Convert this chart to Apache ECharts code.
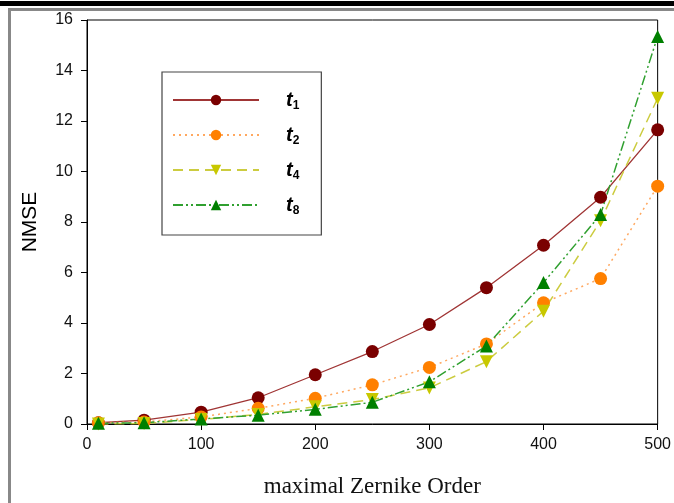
<!DOCTYPE html>
<html>
<head>
<meta charset="utf-8">
<script src="https://cdn.jsdelivr.net/npm/echarts@6/dist/echarts.min.js"></script>
<style>
  html, body { margin: 0; padding: 0; background: #fff; }
  #chart { width: 674px; height: 503px; }
</style>
</head>
<body>
<div id="chart"></div>
<script>
// maximal Zernike order (x)
var orders = [10, 50, 100, 150, 200, 250, 300, 350, 400, 450, 500];
// NMSE per series
var t1 = [0.05, 0.15, 0.47, 1.04, 1.95, 2.87, 3.94, 5.4, 7.08, 8.98, 11.65];
var t2 = [0.05, 0.08, 0.28, 0.62, 1.02, 1.55, 2.24, 3.17, 4.8, 5.76, 9.42];
var t4 = [0.0, 0.02, 0.18, 0.38, 0.68, 0.97, 1.43, 2.47, 4.47, 8.05, 12.9];
var t8 = [0.03, 0.05, 0.2, 0.35, 0.58, 0.86, 1.67, 3.09, 5.6, 8.3, 15.35];

var names = ['t1', 't2', 't4', 't8'];
var yTicks = [0, 16, 2]; // min, max, step
var xTicks = [0, 500, 100];

function pairs(arr) {
  return orders.map(function (x, i) { return [x, arr[i]]; });
}

var chart = echarts.init(document.getElementById('chart'));

chart.setOption({
  animation: false,
  backgroundColor: '#fff',
  graphic: [
    { type: 'rect', shape: { x: 0, y: 1, width: 674, height: 5 }, style: { fill: '#000' } },
    { type: 'rect', shape: { x: 8, y: 8, width: 666, height: 3 }, style: { fill: '#888' } },
    { type: 'rect', shape: { x: 8, y: 8, width: 3, height: 495 }, style: { fill: '#888' } }
  ],
  grid: {
    left: 87, right: 14, top: 20, bottom: 74,
    show: true, borderColor: '#000', borderWidth: 1
  },
  legend: {
    orient: 'vertical',
    left: 162, top: 72,
    padding: [18, 22, 18, 10],
    itemWidth: 86, itemHeight: 13,
    itemGap: 13,
    borderColor: '#444', borderWidth: 1.2,
    data: names,
    formatter: function (n) { return '{t|t}{s|' + n.slice(1) + '}'; },
    textStyle: {
      padding: [0, 0, 0, 22],
      rich: {
        t: { fontFamily: 'Liberation Sans, Arial', fontSize: 20, fontWeight: 'bold', fontStyle: 'italic', color: '#000' },
        s: { fontFamily: 'Liberation Sans, Arial', fontSize: 12, fontWeight: 'bold', color: '#000', padding: [12, 0, 0, 0] }
      }
    }
  },
  xAxis: {
    type: 'value',
    min: xTicks[0], max: xTicks[1], interval: xTicks[2],
    name: 'maximal Zernike Order',
    nameLocation: 'middle',
    nameGap: 51,
    nameTextStyle: { fontFamily: 'Liberation Serif, Times New Roman', fontSize: 23, color: '#111' },
    axisLine: { lineStyle: { color: '#000', width: 1 } },
    axisTick: { inside: false, length: 6, lineStyle: { color: '#000' } },
    axisLabel: { margin: 13, fontFamily: 'Liberation Sans, Arial', fontSize: 16, color: '#111' },
    splitLine: { show: false }
  },
  yAxis: {
    type: 'value',
    min: yTicks[0], max: yTicks[1], interval: yTicks[2],
    name: 'NMSE',
    nameLocation: 'middle',
    nameGap: 46,
    nameTextStyle: { fontFamily: 'Liberation Sans, Arial', fontSize: 21, color: '#000' },
    axisLine: { show: true, lineStyle: { color: '#000', width: 1 } },
    axisTick: { show: true, inside: false, length: 6, lineStyle: { color: '#000' } },
    axisLabel: { margin: 14, fontFamily: 'Liberation Sans, Arial', fontSize: 16, color: '#111' },
    splitLine: { show: false }
  },
  series: [
    {
      name: 't1', type: 'line', data: pairs(t1),
      symbol: 'circle', symbolSize: 13,
      itemStyle: { color: '#7a0000' },
      lineStyle: { color: '#a03535', width: 1.3, type: 'solid' }
    },
    {
      name: 't2', type: 'line', data: pairs(t2),
      symbol: 'circle', symbolSize: 13,
      itemStyle: { color: '#ff8000' },
      lineStyle: { color: '#ffa860', width: 1.5, type: [2, 4] }
    },
    {
      name: 't4', type: 'line', data: pairs(t4),
      symbol: 'triangle', symbolRotate: 180, symbolSize: 13,
      itemStyle: { color: '#c8c800' },
      lineStyle: { color: '#cccc40', width: 1.5, type: [10, 6] }
    },
    {
      name: 't8', type: 'line', data: pairs(t8),
      symbol: 'triangle', symbolSize: 13,
      itemStyle: { color: '#008000' },
      lineStyle: { color: '#30a030', width: 1.5, type: [10, 3, 2, 3, 2, 3] }
    }
  ]
});
</script>
</body>
</html>
